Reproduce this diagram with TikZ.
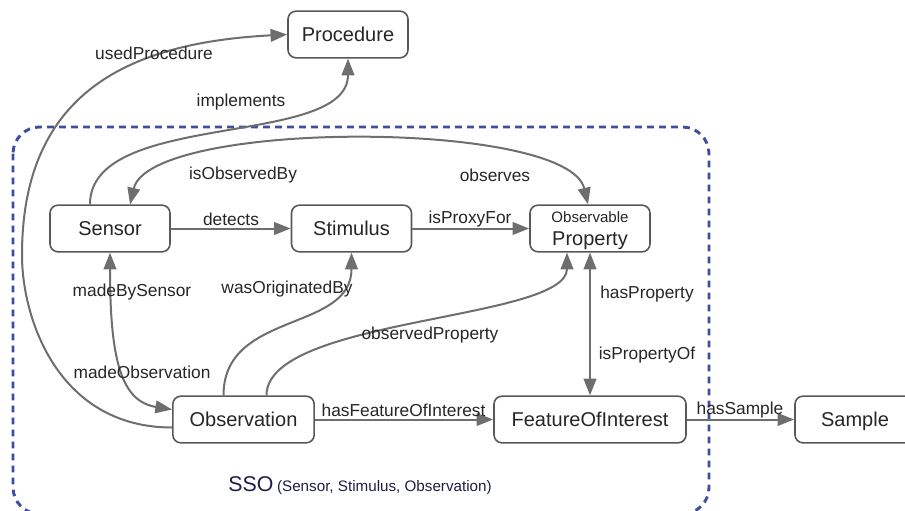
\documentclass[tikz,border=0pt]{standalone}
\usepackage{fontspec}
\setmainfont{Liberation Sans}
\usetikzlibrary{positioning,arrows.meta,calc}

\definecolor{edgegray}{RGB}{110,110,110}
\definecolor{boxgray}{RGB}{88,88,88}
\definecolor{ssoblue}{RGB}{62,78,158}
\definecolor{ssotext}{RGB}{30,30,72}

\begin{document}
\begin{tikzpicture}[
        x=0.75pt, y=-0.75pt,
        concept/.style={
            draw=boxgray,
            fill=white,
            rounded corners=6pt,
            line width=1.2pt,
            minimum width=90pt,
            minimum height=35pt,
            inner sep=2pt,
            text height=10.7pt,
            text depth=0pt,
            align=center,
            text=black!85,
            font=\fontsize{15}{16}\selectfont
        },
        rel/.style={-{Triangle[length=12.5pt,width=9.5pt]}, line width=1.5pt, draw=edgegray},
        birel/.style={rel, {Triangle[length=12.5pt,width=9.5pt]}-{Triangle[length=12.5pt,width=9.5pt]}},
        lbl/.style={font=\fontsize{13}{14}\selectfont, text=black!85, inner sep=0pt}
    ]

    \useasboundingbox (0,0) rectangle (905,510);

    % SSO module frame
    \draw[ssoblue, line width=2.2pt, dash pattern=on 5pt off 4pt, rounded corners=20pt]
        (13,127) rectangle (709,514);
    \node[text=ssotext, inner sep=0pt] (ssolabel) at (360,486)
        {{\fontsize{16}{18}\selectfont SSO} {\fontsize{11.4}{13}\selectfont(Sensor, Stimulus, Observation)}};

    % concepts
    \node[concept] (proc) at (348,34.5) {Procedure};
    \node[concept] (sensor) at (110,228.5) {Sensor};
    \node[concept] (stim) at (351.5,228.5) {Stimulus};
    \node[concept, text height=] (obsprop) at (590,228.5)
        {{\fontsize{11.3}{12}\selectfont Observable}\\[1pt]Property};
    \node[concept, minimum width=106pt] (obs) at (243.5,419.5) {Observation};
    \node[concept, minimum width=144pt] (foi) at (590,419.5) {FeatureOfInterest};
    \node[concept] (sample) at (855,419.5) {Sample};

    % relations
    \coordinate (leftbend) at (22,255);
    \draw[rel] ($(obs.west)+(0,8)$) .. controls +(-113,0) and +(0,65) .. (leftbend)
        .. controls +(0,-165) and +(-155,8) .. (proc.west);
    \draw[rel] ($(sensor.north)+(-20,0)$) .. controls +(0,-95) and +(0,90) .. (proc.south);
    \draw[birel] ($(sensor.north)+(20,0)$) .. controls +(20,-85) and +(-20,-85) .. ($(obsprop.north)+(-2,0)$);
    \draw[rel] (sensor) -- (stim);
    \draw[rel] (stim) -- (obsprop);
    \draw[birel] (sensor.south) .. controls +(0,110) and +(-50,-8) .. ($(obs.west)+(0,-10)$);
    \draw[rel] ($(obs.north)+(-20,0)$) .. controls +(0,-85) and +(0,80) .. (stim.south);
    \draw[rel] ($(obs.north)+(23,0)$) .. controls +(0,-78) and +(0,68) .. ($(obsprop.south)+(-23,0)$);
    \draw[birel] (obsprop) -- (foi);
    \draw[rel] (obs) -- (foi);
    \draw[rel] (foi) -- (sample);

    % relation labels
    \node[lbl] (lusedproc) at (154,53) {usedProcedure};
    \node[lbl] (limpl) at (241,102) {implements};
    \node[lbl] (lisobs) at (243,175) {isObservedBy};
    \node[lbl] (lobserves) at (495,175) {observes};
    \node[lbl] (ldetects) at (231,219) {detects};
    \node[lbl] (lproxy) at (470,219) {isProxyFor};
    \node[lbl] (lmadeby) at (132,292) {madeBySensor};
    \node[lbl] (lmadeobs) at (142,372) {madeObservation};
    \node[lbl] (lorig) at (287,289) {wasOriginatedBy};
    \node[lbl] (lobsprop) at (430,335) {observedProperty};
    \node[lbl] (lhasprop) at (647,294) {hasProperty};
    \node[lbl] (lpropof) at (647,355) {isPropertyOf};
    \node[lbl] (lfoi) at (403.5,410) {hasFeatureOfInterest};
    \node[lbl] (lsample) at (740,410) {hasSample};

\end{tikzpicture}
\end{document}
